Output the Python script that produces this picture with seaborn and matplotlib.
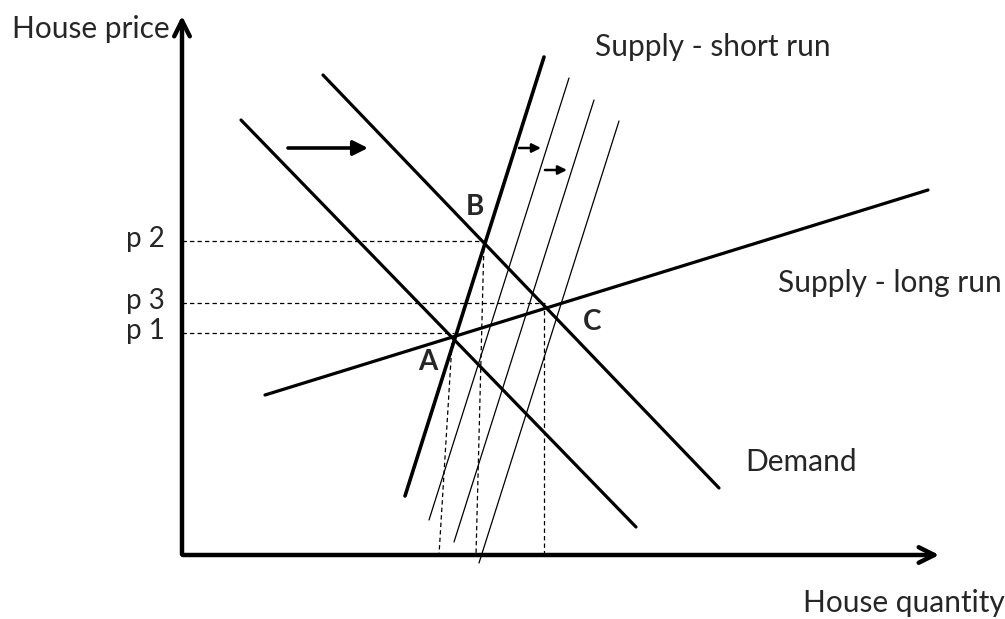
import numpy as np
import pandas as pd
import matplotlib
matplotlib.use("Agg")
import matplotlib.pyplot as plt
import seaborn as sns

# Coordinates are in diagram units: origin at the axis corner
demand_old = {"x": [59, 454], "y": [435, 28]}
demand_new = {"x": [141, 537], "y": [480, 67]}
supply_short = {"x": [223, 362], "y": [59, 498]}
supply_shifts = [
    {"x": [247, 387], "y": [35, 477]},
    {"x": [272, 412], "y": [13, 455]},
    {"x": [297, 437], "y": [-8, 434]},
]
supply_long = {"x": [83, 746], "y": [160, 365]}

price_labels = ["p 2", "p 3", "p 1"]
price_levels = [314, 252, 222]
price_ends = [303, 363, 272]

# vertical guides (top x, top y, bottom x)
guide_top_x = [270, 302, 362]
guide_top_y = [212, 314, 252]
guide_bot_x = [257, 294, 362]

point_names = ["A", "B", "C"]
point_x = [246, 293, 410]
point_y = [193, 348, 233]

shift_arrows = [(106, 186, 407), (337, 359, 407), (363, 385, 385)]

sns.set_theme(style="white")
plt.rcParams["font.family"] = ["Lato", "DejaVu Sans"]

fig = plt.figure(figsize=(10.05, 6.19), dpi=100)
ax = fig.add_axes([0, 0, 1, 1])
ax.set_xlim(-182, 823)
ax.set_ylim(-64, 555)
ax.axis("off")

def draw(seg, lw, ls="-"):
    df = pd.DataFrame(seg)
    sns.lineplot(data=df, x="x", y="y", ax=ax, color="black", linewidth=lw,
                 linestyle=ls, sort=False, estimator=None)

# dashed guides
for lvl, end in zip(price_levels, price_ends):
    draw({"x": [0, end], "y": [lvl, lvl]}, 0.9, (0, (3.5, 2.5)))
for tx, ty, bx in zip(guide_top_x, guide_top_y, guide_bot_x):
    draw({"x": [tx, bx], "y": [ty, 0]}, 0.9, (0, (3.5, 2.5)))

draw(demand_old, 2.3)
draw(demand_new, 2.3)
draw(supply_short, 2.6)
for s in supply_shifts:
    draw(s, 0.9)
draw(supply_long, 2.3)

# axes with arrows
ax.annotate("", xy=(0, 542), xytext=(0, -2),
            arrowprops=dict(arrowstyle="->", lw=3.2, color="black", mutation_scale=28))
ax.annotate("", xy=(760, 0), xytext=(-2, 0),
            arrowprops=dict(arrowstyle="->", lw=3.2, color="black", mutation_scale=28))

# shift arrows
for x0, x1, y in shift_arrows:
    big = (x1 - x0) > 40
    ax.annotate("", xy=(x1, y), xytext=(x0, y),
                arrowprops=dict(arrowstyle="-|>", lw=2.6 if big else 1.8, color="black",
                                mutation_scale=22 if big else 13, shrinkA=0, shrinkB=0))

fs = 21.5
ax.text(-170, 526, "House price", fontsize=fs, ha="left", va="center")
ax.text(413, 508, "Supply - short run", fontsize=fs, ha="left", va="center")
ax.text(596, 272, "Supply - long run", fontsize=fs, ha="left", va="center")
ax.text(563, 93, "Demand", fontsize=fs, ha="left", va="center")
ax.text(621, -48, "House quantity", fontsize=fs, ha="left", va="center")

for lab, lvl in zip(price_labels, price_levels):
    ax.text(-17, lvl + 2, lab, fontsize=20, ha="right", va="center")

for n, px, py in zip(point_names, point_x, point_y):
    ax.text(px, py, n, fontsize=20, fontweight="bold", ha="center", va="center")

fig.savefig("out.png", dpi=100)
